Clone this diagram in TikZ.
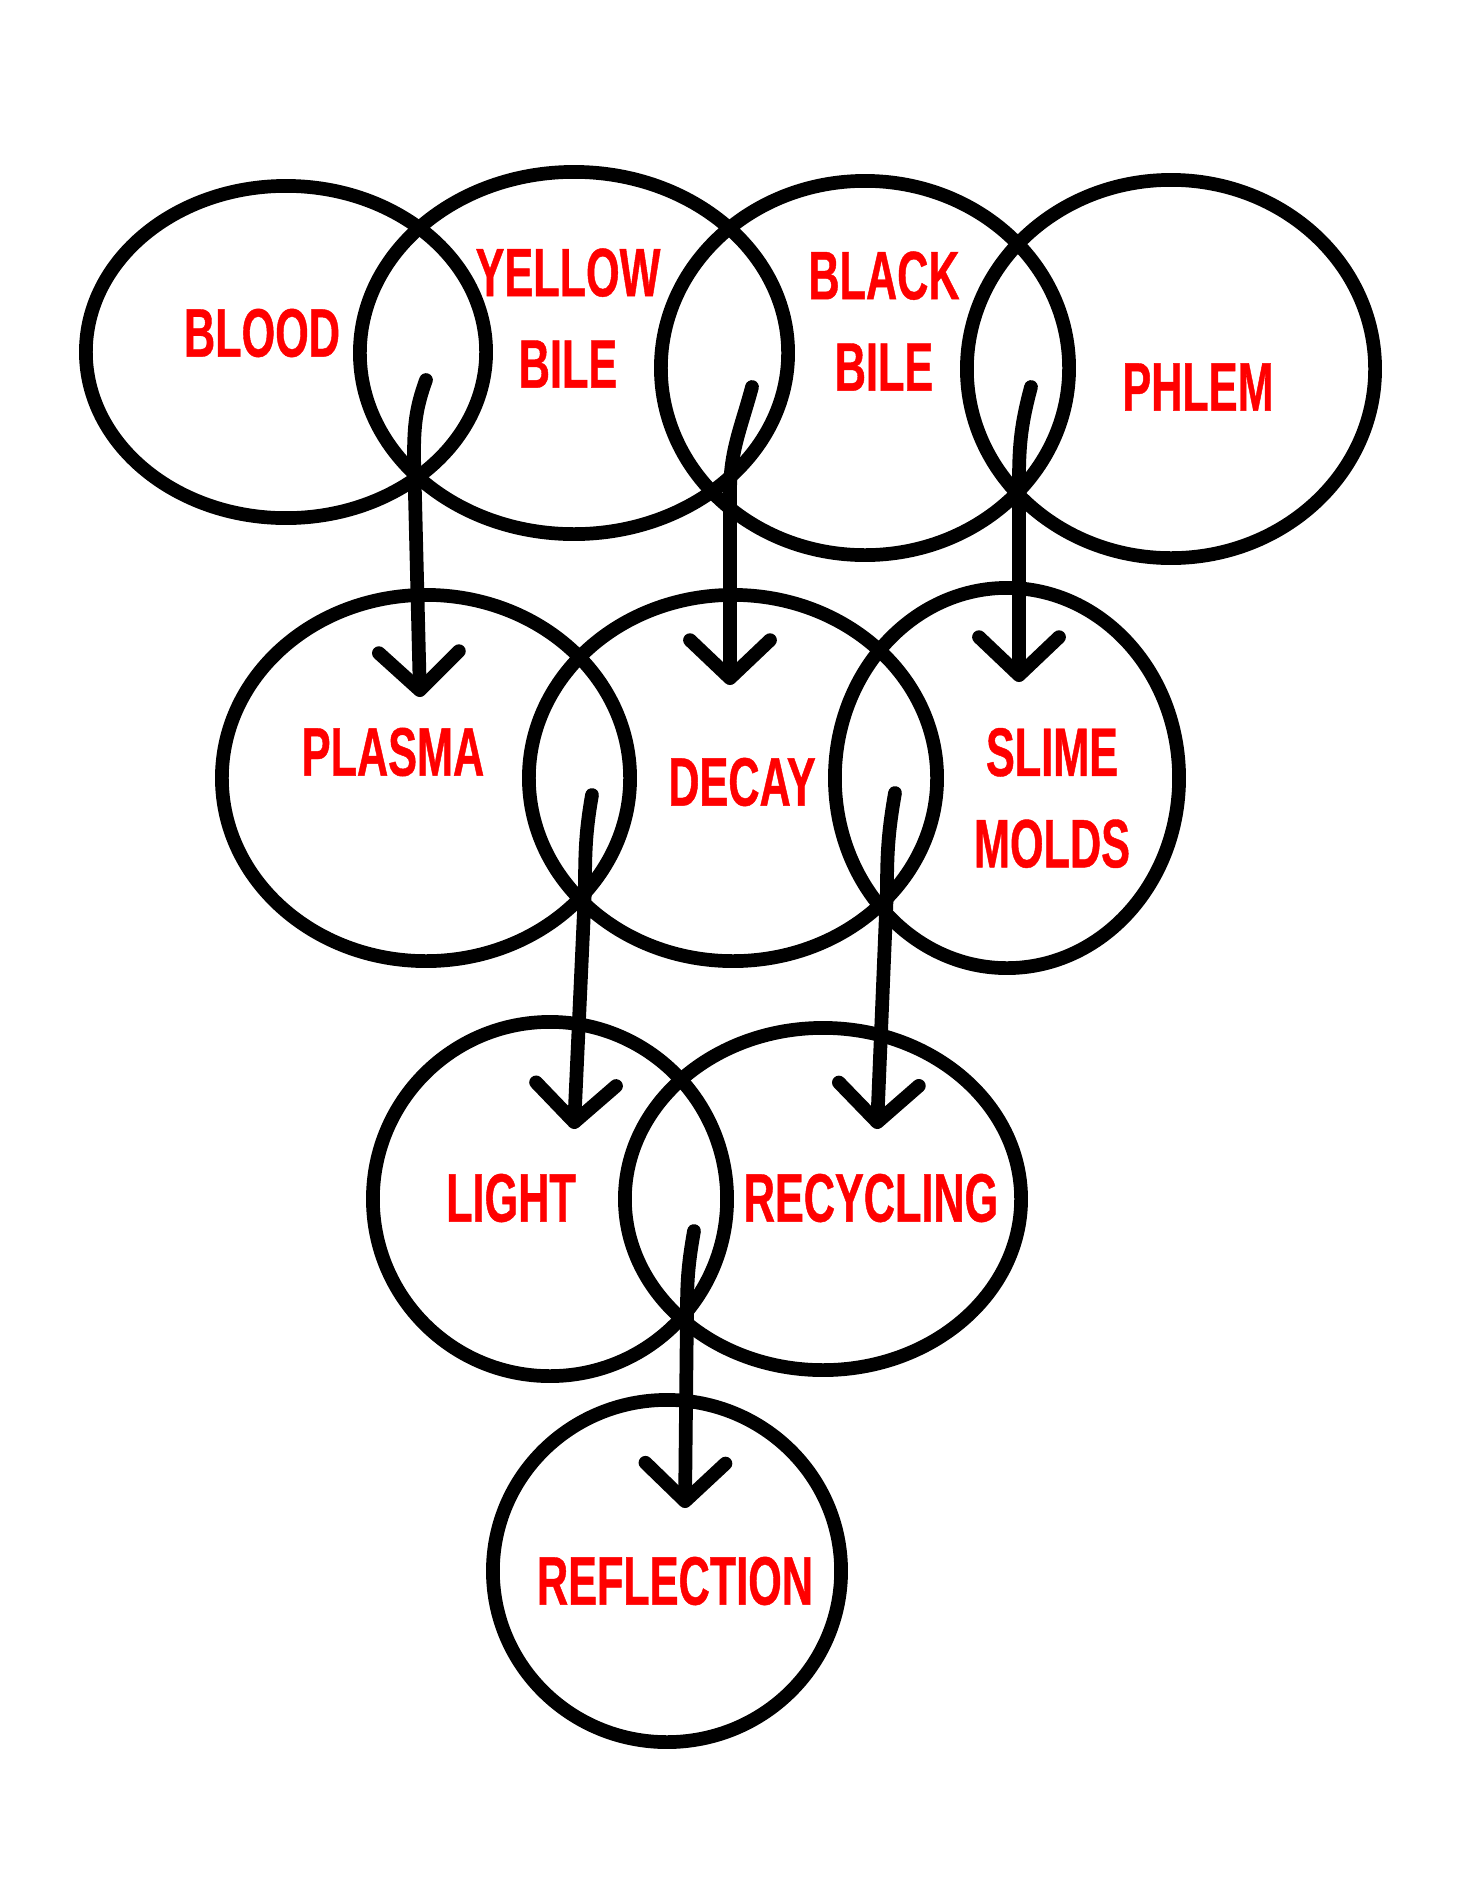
\documentclass[tikz,border=0pt]{standalone}
\usepackage{fontspec}
\newfontfamily\humfont[FakeStretch=0.63,FakeBold=0.6]{Liberation Sans}
\usetikzlibrary{shapes.geometric,arrows.meta}

\begin{document}
\begin{tikzpicture}[x=0.01cm,y=-0.01cm,line width=3.9pt,
  blob/.style={draw,shape=ellipse,inner sep=0pt},
  lbl/.style={text=red,font=\humfont\bfseries\fontsize{19.5}{26}\selectfont,align=center},
  arr/.style={line cap=round,-{Straight Barb[length=0.38cm,width=0.8cm,line cap=round,line join=round]}}]

      \useasboundingbox (0,0) rectangle (1456,1884);

      % the four humours
      \path (286,352)  node[blob,minimum width=4cm,minimum height=3.32cm] (blood) {};
      \path (574,353)  node[blob,minimum width=4.28cm,minimum height=3.62cm] (yellow) {};
      \path (865,368)  node[blob,minimum width=4.08cm,minimum height=3.74cm] (black) {};
      \path (1171,369) node[blob,minimum width=4.08cm,minimum height=3.78cm] (phlem) {};

      % second row
      \path (426,778)  node[blob,minimum width=4.08cm,minimum height=3.66cm] (plasma) {};
      \path (733,778)  node[blob,minimum width=4.08cm,minimum height=3.66cm] (decay) {};
      \path (1007,778) node[blob,minimum width=3.44cm,minimum height=3.8cm] (slime) {};

      % third row
      \path (550,1199) node[blob,minimum width=3.54cm,minimum height=3.54cm] (light) {};
      \path (823,1199) node[blob,minimum width=3.96cm,minimum height=3.42cm] (recyc) {};

      % last one
      \path (667,1571) node[blob,minimum width=3.48cm,minimum height=3.42cm] (reflect) {};

      \path (262,333)  node[lbl] (tblood)  {BLOOD};
      \path (568,318)  node[lbl] (tyellow) {YELLOW\\BILE};
      \path (884,321)  node[lbl] (tblack)  {BLACK\\BILE};
      \path (1198,387) node[lbl] (tphlem)  {PHLEM};
      \path (393,752)  node[lbl] (tplasma) {PLASMA};
      \path (742,782)  node[lbl] (tdecay)  {DECAY};
      \path (1052,798) node[lbl] (tslime)  {SLIME\\MOLDS};
      \path (511,1198) node[lbl] (tlight)  {LIGHT};
      \path (871,1198) node[lbl] (trecyc)  {RECYCLING};
      \path (675,1581) node[lbl] (treflect) {REFLECTION};

      % arrows: start, bend, tip
      \coordinate (s1) at (426,380);  \coordinate (m1) at (414,456);  \coordinate (t1) at (420,697);
      \coordinate (s2) at (752,387);  \coordinate (m2) at (730,493);  \coordinate (t2) at (730,685);
      \coordinate (s3) at (1031,387); \coordinate (m3) at (1019,480); \coordinate (t3) at (1019,682);
      \coordinate (s4) at (592,795);  \coordinate (m4) at (585,889);  \coordinate (t4) at (574,1129);
      \coordinate (s5) at (895,793);  \coordinate (m5) at (887,889);  \coordinate (t5) at (877,1129);
      \coordinate (s6) at (694,1231); \coordinate (m6) at (687,1309); \coordinate (t6) at (685,1508);

      \draw[arr] (s1) to[out=-110,in=90] (m1) -- (t1);
      \draw[arr] (s2) to[out=-105,in=90] (m2) -- (t2);
      \draw[arr] (s3) to[out=-105,in=90] (m3) -- (t3);
      \draw[arr] (s4) to[out=-100,in=90] (m4) -- (t4);
      \draw[arr] (s5) to[out=-100,in=90] (m5) -- (t5);
      \draw[arr] (s6) to[out=-100,in=90] (m6) -- (t6);
   \end{tikzpicture}
\end{document}
